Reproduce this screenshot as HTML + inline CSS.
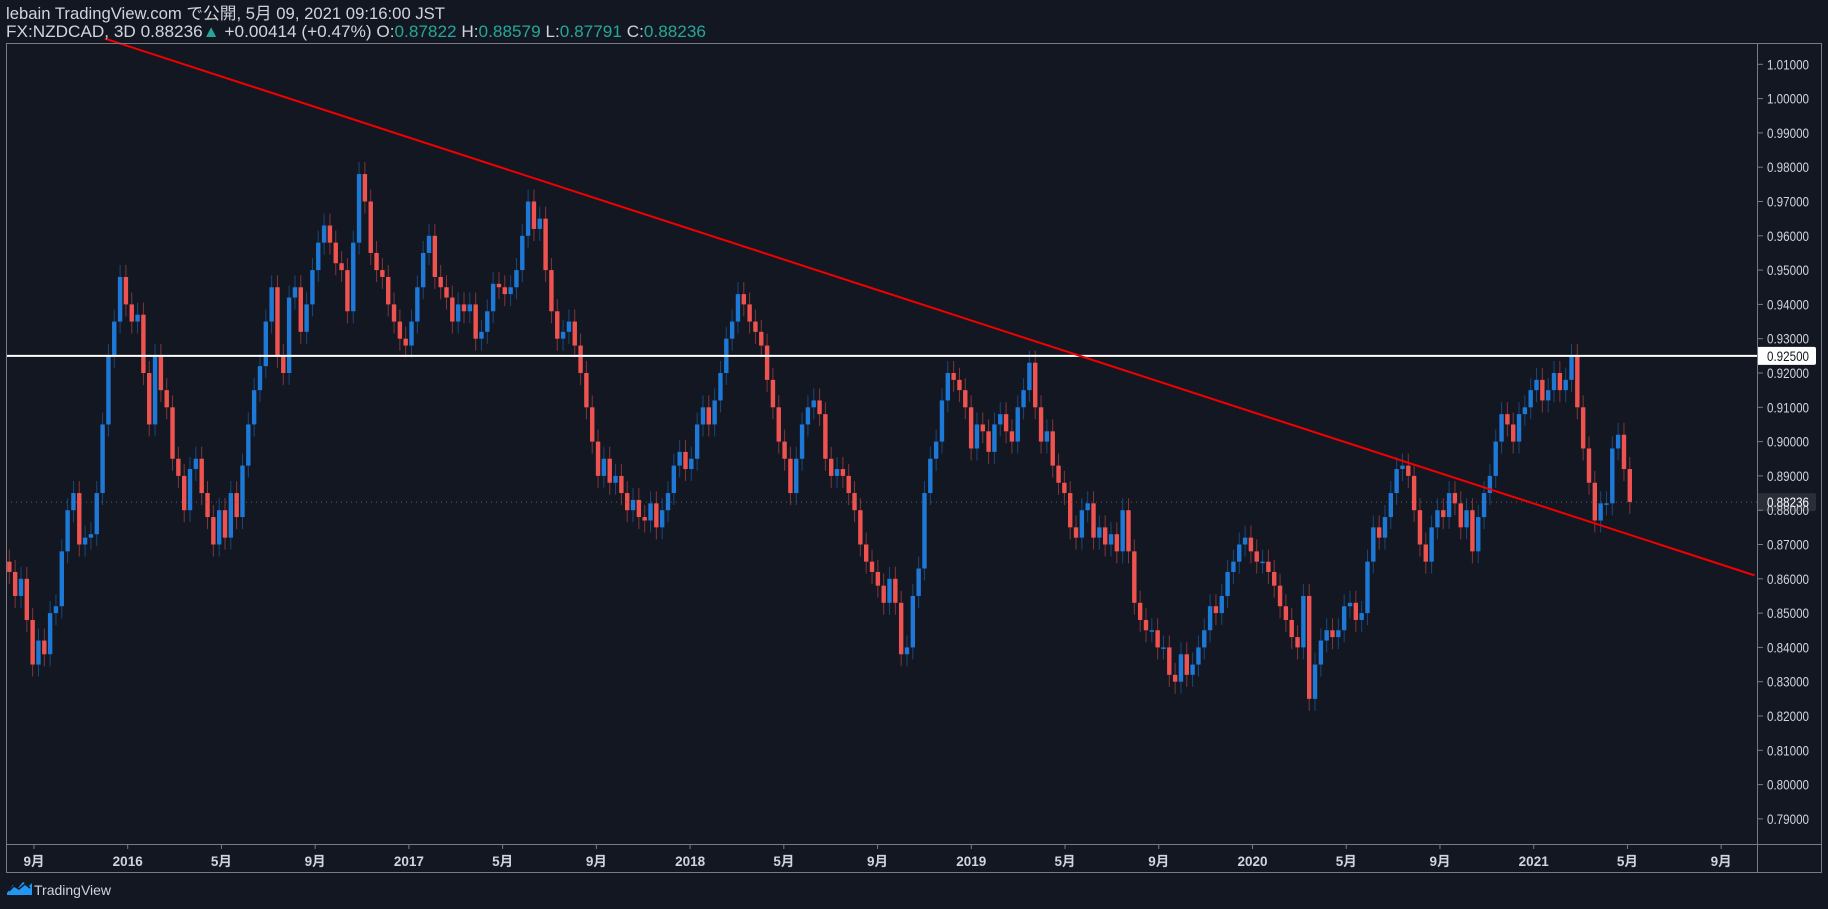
<!DOCTYPE html>
<html><head><meta charset="utf-8"><style>
html,body{margin:0;padding:0;background:#131722;width:1828px;height:909px;overflow:hidden}
svg{display:block}
text{font-family:"Liberation Sans","Noto Sans CJK JP",sans-serif}
</style></head><body>
<svg id="chart" width="1828" height="909" xmlns="http://www.w3.org/2000/svg">
<rect x="0" y="0" width="1828" height="909" fill="#131722"/>
<g id="grid"></g>
<g id="candles"></g>
<g id="overlay"></g>
<rect x="6.5" y="43.5" width="1815" height="829" fill="none" stroke="#787b86" stroke-width="1"/>
<line x1="1757.5" y1="43" x2="1757.5" y2="872" stroke="#787b86"/>
<line x1="6" y1="844.5" x2="1822" y2="844.5" stroke="#787b86"/>
<g id="yaxis"></g>
<g id="xaxis"></g>
<text x="6" y="19" font-size="16.5" fill="#d1d4dc" textLength="439" lengthAdjust="spacingAndGlyphs">lebain TradingView.com で公開, 5月 09, 2021 09:16:00 JST</text>
<text x="6" y="37" font-size="16.5" fill="#d1d4dc" textLength="700" lengthAdjust="spacingAndGlyphs">FX:NZDCAD, 3D 0.88236<tspan fill="#26a69a">▲</tspan> +0.00414 (+0.47%) O:<tspan fill="#26a69a">0.87822</tspan> H:<tspan fill="#26a69a">0.88579</tspan> L:<tspan fill="#26a69a">0.87791</tspan> C:<tspan fill="#26a69a">0.88236</tspan></text>
<g>
<path d="M7 893 l6 -8 l5 3 l5 -6 l6 4 l3 -3 v12 h-25z" fill="#2196f3"/>
<path d="M9 891 l5 -5 l5 3 l6 -5 l5 4" fill="none" stroke="#131722" stroke-width="1.5"/>
<text x="34" y="895" font-size="14" fill="#d1d4dc">TradingView</text>
</g>
</svg>
<script>
const closes = [0.862,0.855,0.860,0.848,0.835,0.842,0.838,0.850,0.852,0.868,0.880,0.885,0.870,0.872,0.873,0.885,0.905,0.925,0.935,0.948,0.940,0.935,0.937,0.920,0.905,0.925,0.915,0.910,0.895,0.890,0.880,0.892,0.895,0.885,0.878,0.870,0.880,0.872,0.885,0.878,0.893,0.905,0.915,0.922,0.935,0.945,0.925,0.920,0.942,0.945,0.932,0.940,0.950,0.958,0.963,0.958,0.952,0.950,0.938,0.958,0.978,0.970,0.955,0.950,0.948,0.940,0.935,0.930,0.928,0.935,0.945,0.955,0.960,0.948,0.945,0.942,0.935,0.940,0.938,0.940,0.930,0.932,0.938,0.946,0.945,0.943,0.945,0.950,0.960,0.970,0.962,0.965,0.950,0.938,0.930,0.932,0.935,0.928,0.920,0.910,0.900,0.890,0.895,0.888,0.890,0.885,0.880,0.883,0.878,0.877,0.882,0.875,0.880,0.885,0.893,0.897,0.892,0.895,0.905,0.910,0.905,0.912,0.920,0.930,0.935,0.943,0.940,0.935,0.932,0.928,0.918,0.910,0.900,0.895,0.885,0.895,0.905,0.910,0.912,0.908,0.895,0.890,0.892,0.890,0.885,0.880,0.870,0.865,0.862,0.858,0.853,0.860,0.853,0.838,0.840,0.855,0.863,0.885,0.895,0.900,0.912,0.920,0.918,0.915,0.910,0.898,0.905,0.903,0.897,0.905,0.908,0.903,0.900,0.910,0.915,0.923,0.910,0.900,0.903,0.893,0.888,0.885,0.875,0.872,0.880,0.882,0.872,0.875,0.870,0.873,0.868,0.880,0.868,0.853,0.848,0.845,0.845,0.840,0.840,0.832,0.830,0.838,0.832,0.835,0.840,0.845,0.852,0.850,0.855,0.862,0.865,0.870,0.872,0.868,0.865,0.865,0.862,0.858,0.852,0.848,0.843,0.840,0.855,0.825,0.835,0.842,0.845,0.843,0.845,0.852,0.853,0.848,0.850,0.865,0.875,0.872,0.878,0.885,0.892,0.893,0.890,0.880,0.870,0.865,0.875,0.880,0.878,0.885,0.882,0.875,0.880,0.868,0.878,0.885,0.890,0.900,0.908,0.905,0.900,0.908,0.910,0.915,0.918,0.912,0.915,0.920,0.915,0.918,0.925,0.910,0.898,0.888,0.877,0.882,0.882,0.898,0.902,0.892,0.8824];
const firstOpen = 0.865;
const yTicks = [1.01,1.00,0.99,0.98,0.97,0.96,0.95,0.94,0.93,0.92,0.91,0.90,0.89,0.88,0.87,0.86,0.85,0.84,0.83,0.82,0.81,0.80,0.79];
const xTickLabels = ["9月","2016","5月","9月","2017","5月","9月","2018","5月","9月","2019","5月","9月","2020","5月","9月","2021","5月","9月"];
const xTickMonths = [-4,0,4,8,12,16,20,24,28,32,36,40,44,48,52,56,60,64,68];
const hLinePrice = 0.925;
const lastPrice = 0.88236;
const trendStart = [16.4, 1.0175];
const trendEnd = [299.4, 0.861];

const NS = "http://www.w3.org/2000/svg";
function y(p){ return 64.3 + (1.01 - p) * 3430; }
function x(i){ return (8 + i * 5) * 1.1658; }
function xMonth(m){ return 127.7 + m * 281.2 / 12; }
function mk(tag, attrs, parent){ const e = document.createElementNS(NS, tag); for (const k in attrs) e.setAttribute(k, attrs[k]); parent.appendChild(e); return e; }

const ya = document.getElementById('yaxis');
yTicks.forEach(t => {
  const yy = y(t);
  const tk = mk('line', {x1:1757, x2:1763, y1:yy, y2:yy, stroke:'#787b86'}, ya);
  
  
  const tx = mk('text', {x:1767, y:yy + 5, 'font-size':13.5, fill:'#d1d4dc', textLength:42, lengthAdjust:'spacingAndGlyphs'}, ya);
  tx.textContent = t.toFixed(5);
  
  
});
const xa = document.getElementById('xaxis');
xTickMonths.forEach((m, k) => {
  const xx = xMonth(m);
  const tk = mk('line', {x1:xx, x2:xx, y1:844, y2:849, stroke:'#787b86'}, xa);
  
  
  const tx = mk('text', {x:xx, y:866, 'font-size':13.5, 'font-weight':'bold', fill:'#d1d4dc', 'text-anchor':'middle'}, xa);
  tx.textContent = xTickLabels[k];
  
  
});

const cg = document.getElementById('candles');
let prev = firstOpen;
closes.forEach((c, i) => {
  const o = prev; prev = c;
  const up = c >= o;
  const col = up ? '#1e78d6' : '#ef5350';
  const hi = Math.max(o, c) + 0.0035, lo = Math.min(o, c) - 0.0035;
  const cx = x(i);
  const w = mk('line', {x1:cx, x2:cx, y1:y(hi), y2:y(lo), stroke:col, 'stroke-opacity':0.5, 'stroke-width':1}, cg);
  
  
  const top = y(Math.max(o, c)), bot = y(Math.min(o, c));
  const b = mk('rect', {x:cx - 2.2, y:top, width:4.4, height:Math.max(1.5, bot - top), fill:col}, cg);
  
  
});

const ov = document.getElementById('overlay');
const ll = mk('line', {x1:6, x2:1757, y1:y(lastPrice), y2:y(lastPrice), stroke:'#5d606b', 'stroke-dasharray':'1 4'}, ov);


const hl = mk('line', {x1:6, x2:1757, y1:y(hLinePrice), y2:y(hLinePrice), stroke:'#ffffff', 'stroke-width':2}, ov);


const tl = mk('line', {x1:x(trendStart[0]), y1:y(trendStart[1]), x2:x(trendEnd[0]), y2:y(trendEnd[1]), stroke:'#f20000', 'stroke-width':2}, ov);



const hb = mk('rect', {x:1757, y:y(hLinePrice) - 9, width:59, height:18, rx:2, fill:'#ffffff'}, ov);


const ht = mk('text', {x:1767, y:y(hLinePrice) + 5, 'font-size':13.5, fill:'#131722', textLength:42, lengthAdjust:'spacingAndGlyphs'}, ov);
ht.textContent = hLinePrice.toFixed(5);


const lb = mk('rect', {x:1757, y:y(lastPrice) - 9, width:59, height:18, rx:2, fill:'#2a2e39'}, ov);


const lt = mk('text', {x:1767, y:y(lastPrice) + 5, 'font-size':13.5, fill:'#ffffff', textLength:42, lengthAdjust:'spacingAndGlyphs'}, ov);
lt.textContent = lastPrice.toFixed(5);


</script>
</body></html>
